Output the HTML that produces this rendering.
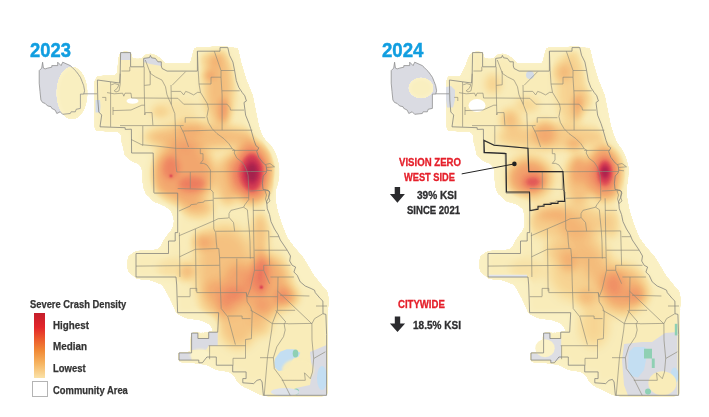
<!DOCTYPE html>
<html><head><meta charset="utf-8"><style>
html,body{margin:0;padding:0;background:#fff;width:709px;height:417px;overflow:hidden}
svg{position:absolute;left:0;top:0}
.t{position:absolute;font-family:"Liberation Sans",sans-serif;font-weight:bold;white-space:nowrap;line-height:1;transform-origin:0 0}
.yr{color:#119ee0;-webkit-text-stroke:0.45px #119ee0}
.lg{color:#343434;-webkit-text-stroke:0.25px #343434}
.red{color:#e5202b;-webkit-text-stroke:0.3px #e5202b}
.dk{color:#2e2e30;-webkit-text-stroke:0.3px #2e2e30}
</style></head><body>
<svg width="709" height="417" viewBox="0 0 709 417"><defs><filter id="g0_6" x="-100%" y="-100%" width="300%" height="300%"><feGaussianBlur stdDeviation="0.6"/></filter><filter id="g1" x="-100%" y="-100%" width="300%" height="300%"><feGaussianBlur stdDeviation="1"/></filter><filter id="g2" x="-100%" y="-100%" width="300%" height="300%"><feGaussianBlur stdDeviation="2"/></filter><filter id="g3" x="-100%" y="-100%" width="300%" height="300%"><feGaussianBlur stdDeviation="3"/></filter><filter id="g4" x="-100%" y="-100%" width="300%" height="300%"><feGaussianBlur stdDeviation="4"/></filter><filter id="g5" x="-100%" y="-100%" width="300%" height="300%"><feGaussianBlur stdDeviation="5"/></filter><filter id="g6" x="-100%" y="-100%" width="300%" height="300%"><feGaussianBlur stdDeviation="6"/></filter><filter id="g7" x="-100%" y="-100%" width="300%" height="300%"><feGaussianBlur stdDeviation="7"/></filter><filter id="g8" x="-100%" y="-100%" width="300%" height="300%"><feGaussianBlur stdDeviation="8"/></filter><filter id="g10" x="-100%" y="-100%" width="300%" height="300%"><feGaussianBlur stdDeviation="10"/></filter><filter id="g12" x="-100%" y="-100%" width="300%" height="300%"><feGaussianBlur stdDeviation="12"/></filter><filter id="cmap" filterUnits="userSpaceOnUse" x="-20" y="0" width="400" height="417" color-interpolation-filters="sRGB"><feColorMatrix in="SourceAlpha" type="matrix" values="0 0 0 1 0  0 0 0 1 0  0 0 0 1 0  0 0 0 1 0"/><feComponentTransfer><feFuncR type="table" tableValues="1.000 1.000 1.000 1.000 1.000 1.000 1.000 1.000 0.984 0.984 0.984 0.983 0.983 0.982 0.982 0.982 0.981 0.981 0.980 0.980 0.980 0.979 0.979 0.978 0.978 0.978 0.977 0.977 0.976 0.976 0.976 0.975 0.975 0.975 0.974 0.974 0.973 0.973 0.973 0.972 0.971 0.970 0.969 0.969 0.968 0.967 0.966 0.965 0.965 0.964 0.963 0.962 0.962 0.961 0.960 0.959 0.958 0.958 0.957 0.956 0.955 0.955 0.954 0.953 0.952 0.951 0.951 0.950 0.949 0.947 0.946 0.944 0.942 0.940 0.939 0.937 0.935 0.933 0.925 0.918 0.910 0.902 0.894 0.886 0.878 0.871 0.863 0.847 0.831 0.816 0.800 0.784 0.769 0.753 0.732 0.710 0.689 0.668 0.646 0.625 0.604"/><feFuncG type="table" tableValues="1.000 1.000 1.000 1.000 1.000 1.000 1.000 1.000 0.949 0.948 0.947 0.947 0.946 0.945 0.944 0.944 0.943 0.942 0.941 0.940 0.938 0.936 0.935 0.933 0.932 0.930 0.929 0.927 0.925 0.919 0.913 0.907 0.900 0.894 0.888 0.882 0.875 0.869 0.863 0.856 0.849 0.842 0.835 0.827 0.820 0.813 0.806 0.799 0.792 0.784 0.776 0.767 0.759 0.751 0.743 0.735 0.726 0.718 0.710 0.700 0.690 0.680 0.671 0.661 0.651 0.641 0.631 0.622 0.612 0.600 0.587 0.575 0.563 0.551 0.539 0.526 0.514 0.502 0.477 0.451 0.426 0.401 0.376 0.350 0.325 0.300 0.275 0.259 0.243 0.227 0.212 0.196 0.180 0.165 0.159 0.152 0.146 0.140 0.134 0.128 0.122"/><feFuncB type="table" tableValues="1.000 1.000 1.000 1.000 1.000 1.000 1.000 1.000 0.784 0.782 0.780 0.777 0.775 0.773 0.770 0.768 0.765 0.763 0.761 0.757 0.754 0.750 0.747 0.743 0.740 0.736 0.733 0.729 0.725 0.714 0.703 0.691 0.680 0.669 0.657 0.646 0.635 0.623 0.612 0.604 0.596 0.588 0.580 0.573 0.565 0.557 0.549 0.541 0.533 0.526 0.518 0.511 0.504 0.496 0.489 0.481 0.474 0.466 0.459 0.455 0.450 0.446 0.442 0.437 0.433 0.429 0.424 0.420 0.416 0.411 0.407 0.403 0.398 0.394 0.390 0.385 0.381 0.376 0.371 0.366 0.361 0.356 0.350 0.345 0.340 0.335 0.329 0.327 0.325 0.323 0.320 0.318 0.316 0.314 0.311 0.309 0.307 0.305 0.303 0.300 0.298"/><feFuncA type="table" tableValues="0.000 0.000 0.000 0.000 0.000 0.000 0.000 0.000 1.000 1.000 1.000 1.000 1.000 1.000 1.000 1.000 1.000 1.000 1.000 1.000 1.000 1.000 1.000 1.000 1.000 1.000 1.000 1.000 1.000 1.000 1.000 1.000 1.000 1.000 1.000 1.000 1.000 1.000 1.000 1.000 1.000 1.000 1.000 1.000 1.000 1.000 1.000 1.000 1.000 1.000 1.000 1.000 1.000 1.000 1.000 1.000 1.000 1.000 1.000 1.000 1.000 1.000 1.000 1.000 1.000 1.000 1.000 1.000 1.000 1.000 1.000 1.000 1.000 1.000 1.000 1.000 1.000 1.000 1.000 1.000 1.000 1.000 1.000 1.000 1.000 1.000 1.000 1.000 1.000 1.000 1.000 1.000 1.000 1.000 1.000 1.000 1.000 1.000 1.000 1.000 1.000"/></feComponentTransfer></filter></defs><g transform="translate(0,0)"><polygon points="39.2,70.6 41.7,68.1 42.6,62.2 43.4,68.1 45.1,68.9 47.6,68.1 51.8,67.2 51.8,65.6 57.7,65.6 57.7,62.2 61.1,65.6 62.7,62.2 70.3,65.6 72.0,67.2 74.5,69.8 76.2,71.4 78.7,74.8 80.4,77.3 82.1,81.5 83.7,85.7 84.6,90.8 83.7,94.1 80.4,94.1 80.4,108.4 76.2,109.3 75.3,111.8 71.1,111.8 70.3,113.5 62.7,114.3 60.2,111.8 56.8,113.5 55.2,110.1 51.8,108.4 51.0,106.7 47.6,105.9 45.1,103.4 42.6,102.5 40.9,100.0 40.0,91.6 39.2,83.2" fill="#dadbe2"/></g><g transform="translate(352,0)"><polygon points="39.2,70.6 41.7,68.1 42.6,62.2 43.4,68.1 45.1,68.9 47.6,68.1 51.8,67.2 51.8,65.6 57.7,65.6 57.7,62.2 61.1,65.6 62.7,62.2 70.3,65.6 72.0,67.2 74.5,69.8 76.2,71.4 78.7,74.8 80.4,77.3 82.1,81.5 83.7,85.7 84.6,90.8 83.7,94.1 80.4,94.1 80.4,108.4 76.2,109.3 75.3,111.8 71.1,111.8 70.3,113.5 62.7,114.3 60.2,111.8 56.8,113.5 55.2,110.1 51.8,108.4 51.0,106.7 47.6,105.9 45.1,103.4 42.6,102.5 40.9,100.0 40.0,91.6 39.2,83.2" fill="#dadbe2"/></g><g transform="translate(0,0)" filter="url(#cmap)"><polygon points="94.0,82.0 97.0,76.0 117.0,74.5 118.5,60.0 120.6,52.6 130.6,52.6 131.0,58.5 143.0,58.5 144.0,55.0 151.0,53.5 157.0,55.5 162.0,60.0 165.0,63.0 190.0,63.0 193.0,52.0 194.0,47.5 238.0,47.5 241.4,62.0 246.4,79.0 253.0,95.0 256.0,110.0 259.0,125.0 262.0,135.0 266.0,145.0 271.0,153.0 275.0,167.0 273.5,180.0 275.0,195.0 277.5,209.0 281.7,223.0 287.5,237.6 293.0,245.0 304.0,258.0 314.0,275.0 322.0,285.0 328.0,292.0 329.0,300.0 328.0,314.0 326.6,320.0 326.6,395.4 263.4,395.4 257.0,393.7 250.3,390.3 243.6,387.0 236.9,382.0 233.6,375.2 228.5,371.9 216.8,370.2 206.7,365.2 200.0,363.5 180.4,362.0 178.5,360.0 178.5,352.9 191.6,352.9 191.6,333.1 197.9,333.1 208.7,332.2 215.6,332.1 208.9,323.7 200.5,320.4 187.0,318.7 177.0,313.6 172.0,303.6 166.9,293.5 161.9,285.1 150.0,280.0 136.7,278.4 128.0,272.0 126.5,265.0 128.0,256.0 136.0,251.0 148.0,250.5 156.9,249.6 160.0,246.8 162.6,241.8 166.0,236.0 170.1,231.7 173.0,226.7 174.0,220.9 171.3,210.1 165.9,204.7 153.3,201.2 148.0,195.5 146.0,194.7 143.1,187.5 142.4,180.3 141.7,168.8 138.8,164.5 131.6,161.6 124.4,155.8 123.0,148.6 120.8,140.0 121.0,135.0 118.0,132.0 96.0,131.0 94.0,127.0" fill-opacity="0.15" filter="url(#g1)"/><polygon points="97.4,80.0 110.6,81.8 119.6,83.0 120.2,73.5 120.6,52.6 130.6,52.6 130.6,66.8 143.7,66.8 143.7,58.4 149.5,57.6 150.4,55.4 151.5,57.8 155.4,58.4 157.9,61.8 161.3,61.8 161.3,66.0 162.1,68.5 167.1,71.1 197.4,71.1 197.4,51.2 220.0,51.2 220.0,47.6 227.8,47.6 229.5,55.2 232.9,62.0 234.6,70.5 236.3,80.6 238.8,87.4 242.2,92.5 244.8,95.8 246.4,101.0 244.0,102.5 245.6,115.1 249.0,123.5 250.7,128.6 254.0,140.3 256.0,145.8 258.8,147.9 256.7,151.5 258.8,157.3 263.2,163.0 266.0,165.2 266.8,170.2 266.0,173.0 263.2,176.0 262.4,183.2 263.0,189.4 266.6,190.0 269.5,191.5 268.8,197.3 266.6,201.6 267.3,208.8 269.5,214.5 271.0,221.7 274.5,229.0 278.1,234.7 280.3,240.0 287.2,250.2 290.5,256.0 289.7,261.0 292.2,265.3 295.6,267.0 293.9,272.0 297.2,275.3 300.2,281.8 305.2,286.0 311.1,288.5 314.5,290.2 315.3,292.7 320.3,298.6 322.9,301.1 323.0,313.7 325.9,314.4 326.6,334.5 326.6,395.3 263.4,395.3 262.9,390.3 262.1,382.0 260.4,379.4 257.0,380.3 253.7,383.6 242.8,382.8 242.8,378.6 246.1,378.6 246.1,371.9 232.7,371.9 232.7,365.2 216.3,365.2 216.3,357.0 210.0,357.0 206.9,357.0 202.4,362.8 198.8,362.8 198.8,360.1 179.0,360.1 179.0,352.9 191.6,352.9 191.6,333.1 197.9,333.1 197.9,338.5 208.7,338.5 208.7,332.2 217.7,332.2 218.7,312.7 177.6,312.7 176.7,285.0 176.0,277.0 150.0,277.0 136.0,277.0 136.0,253.5 168.5,253.5 168.5,241.0 175.2,241.0 175.2,232.6 177.7,232.6 177.7,193.1 154.2,193.1 153.9,192.5 153.2,153.0 131.6,153.0 131.4,129.2 125.2,129.4 125.2,127.7 100.0,126.8 101.7,115.0 98.8,112.0 97.8,100.0 97.4,80.0" fill-opacity="0.15" filter="url(#g3)"/><ellipse cx="72" cy="93" rx="15" ry="26" fill-opacity="0.2" filter="url(#g2)"/><ellipse cx="219" cy="88" rx="14" ry="38" fill-opacity="0.36" filter="url(#g5)"/><ellipse cx="210" cy="60" rx="10" ry="8" fill-opacity="0.2" filter="url(#g4)"/><ellipse cx="208.7" cy="75.5" rx="6" ry="5" fill-opacity="0.3" filter="url(#g3)"/><ellipse cx="224" cy="111" rx="5" ry="13" fill-opacity="0.35" filter="url(#g3)"/><ellipse cx="175" cy="110" rx="25" ry="10" fill-opacity="0.1" filter="url(#g6)"/><ellipse cx="200" cy="137" rx="55" ry="12" fill-opacity="0.36" filter="url(#g5)"/><ellipse cx="183" cy="174" rx="32" ry="32" fill-opacity="0.5" filter="url(#g6)"/><ellipse cx="171" cy="168" rx="9" ry="12" fill-opacity="0.32" filter="url(#g3)"/><ellipse cx="192" cy="184" rx="14" ry="8" fill-opacity="0.38" filter="url(#g3)"/><ellipse cx="171" cy="176" rx="1.5" ry="1.5" fill-opacity="0.8" filter="url(#g1)"/><ellipse cx="228" cy="180" rx="12" ry="25" fill-opacity="0.35" filter="url(#g5)"/><ellipse cx="252.5" cy="172" rx="22" ry="32" fill-opacity="0.6" filter="url(#g5)"/><ellipse cx="252" cy="172.5" rx="12" ry="20" fill-opacity="0.65" filter="url(#g3)"/><ellipse cx="252" cy="172.5" rx="6" ry="10" fill-opacity="0.8" filter="url(#g2)"/><ellipse cx="160" cy="112" rx="8" ry="6" fill-opacity="0.15" filter="url(#g3)"/><ellipse cx="190" cy="127" rx="15" ry="9" fill-opacity="0.2" filter="url(#g4)"/><ellipse cx="225" cy="268" rx="30" ry="42" fill-opacity="0.34" filter="url(#g7)"/><ellipse cx="205" cy="240" rx="10" ry="10" fill-opacity="0.2" filter="url(#g4)"/><ellipse cx="215" cy="300" rx="15" ry="20" fill-opacity="0.22" filter="url(#g5)"/><ellipse cx="198" cy="210" rx="14" ry="8" fill-opacity="0.28" filter="url(#g4)"/><ellipse cx="200" cy="242" rx="8" ry="8" fill-opacity="0.2" filter="url(#g3)"/><ellipse cx="238" cy="282" rx="14" ry="18" fill-opacity="0.25" filter="url(#g5)"/><ellipse cx="260" cy="235" rx="8" ry="22" fill-opacity="0.32" filter="url(#g4)"/><ellipse cx="200" cy="205" rx="16" ry="6" fill-opacity="0.15" filter="url(#g4)"/><ellipse cx="175" cy="270" rx="18" ry="12" fill-opacity="0.12" filter="url(#g5)"/><ellipse cx="187" cy="272" rx="7" ry="8" fill-opacity="0.25" filter="url(#g3)"/><ellipse cx="268" cy="285" rx="22" ry="30" fill-opacity="0.45" filter="url(#g6)"/><ellipse cx="261" cy="274" rx="8" ry="22" fill-opacity="0.45" filter="url(#g4)"/><ellipse cx="287" cy="297" rx="11" ry="10" fill-opacity="0.42" filter="url(#g4)"/><ellipse cx="261.4" cy="287.2" rx="1.5" ry="1.5" fill-opacity="0.8" filter="url(#g1)"/><ellipse cx="238" cy="318" rx="20" ry="30" fill-opacity="0.32" filter="url(#g6)"/><ellipse cx="228" cy="300" rx="12" ry="15" fill-opacity="0.1" filter="url(#g5)"/><ellipse cx="262" cy="318" rx="10" ry="18" fill-opacity="0.25" filter="url(#g5)"/></g><g transform="translate(352,0)" filter="url(#cmap)"><polygon points="94.0,82.0 96.0,76.0 108.0,76.0 113.0,66.0 117.0,56.0 120.6,52.6 130.6,52.6 131.0,58.5 143.0,58.5 144.0,55.0 151.0,53.5 157.0,55.5 162.0,60.0 165.0,63.0 190.0,63.0 193.0,52.0 194.0,47.5 238.0,47.5 241.4,62.0 246.4,79.0 253.0,95.0 256.0,110.0 259.0,125.0 262.0,135.0 266.0,145.0 271.0,153.0 275.0,167.0 273.5,180.0 275.0,195.0 277.5,209.0 281.7,223.0 287.5,237.6 293.0,245.0 304.0,258.0 314.0,275.0 322.0,285.0 328.0,292.0 329.0,300.0 328.0,314.0 326.6,320.0 326.6,395.4 263.4,395.4 257.0,393.7 250.3,390.3 243.6,387.0 236.9,382.0 233.6,375.2 228.5,371.9 216.8,370.2 206.7,365.2 200.0,363.5 180.4,362.0 178.5,360.0 178.5,352.9 191.6,352.9 191.6,333.1 197.9,333.1 208.7,332.2 215.6,332.1 208.9,323.7 200.5,320.4 187.0,318.7 177.0,313.6 172.0,303.6 166.9,293.5 161.9,285.1 150.0,280.0 136.7,278.4 128.0,272.0 126.5,265.0 128.0,256.0 136.0,251.0 148.0,250.5 156.9,249.6 160.0,246.8 162.6,241.8 166.0,236.0 170.1,231.7 173.0,226.7 174.0,220.9 171.3,210.1 165.9,204.7 153.3,201.2 148.0,195.5 146.0,194.7 143.1,187.5 142.4,180.3 141.7,168.8 138.8,164.5 131.6,161.6 124.4,155.8 123.0,148.6 120.8,140.0 121.0,135.0 118.0,132.0 96.0,131.0 94.0,127.0" fill-opacity="0.15" filter="url(#g1)"/><polygon points="97.4,80.0 110.6,81.8 119.6,83.0 120.2,73.5 120.6,52.6 130.6,52.6 130.6,66.8 143.7,66.8 143.7,58.4 149.5,57.6 150.4,55.4 151.5,57.8 155.4,58.4 157.9,61.8 161.3,61.8 161.3,66.0 162.1,68.5 167.1,71.1 197.4,71.1 197.4,51.2 220.0,51.2 220.0,47.6 227.8,47.6 229.5,55.2 232.9,62.0 234.6,70.5 236.3,80.6 238.8,87.4 242.2,92.5 244.8,95.8 246.4,101.0 244.0,102.5 245.6,115.1 249.0,123.5 250.7,128.6 254.0,140.3 256.0,145.8 258.8,147.9 256.7,151.5 258.8,157.3 263.2,163.0 266.0,165.2 266.8,170.2 266.0,173.0 263.2,176.0 262.4,183.2 263.0,189.4 266.6,190.0 269.5,191.5 268.8,197.3 266.6,201.6 267.3,208.8 269.5,214.5 271.0,221.7 274.5,229.0 278.1,234.7 280.3,240.0 287.2,250.2 290.5,256.0 289.7,261.0 292.2,265.3 295.6,267.0 293.9,272.0 297.2,275.3 300.2,281.8 305.2,286.0 311.1,288.5 314.5,290.2 315.3,292.7 320.3,298.6 322.9,301.1 323.0,313.7 325.9,314.4 326.6,334.5 326.6,395.3 263.4,395.3 262.9,390.3 262.1,382.0 260.4,379.4 257.0,380.3 253.7,383.6 242.8,382.8 242.8,378.6 246.1,378.6 246.1,371.9 232.7,371.9 232.7,365.2 216.3,365.2 216.3,357.0 210.0,357.0 206.9,357.0 202.4,362.8 198.8,362.8 198.8,360.1 179.0,360.1 179.0,352.9 191.6,352.9 191.6,333.1 197.9,333.1 197.9,338.5 208.7,338.5 208.7,332.2 217.7,332.2 218.7,312.7 177.6,312.7 176.7,285.0 176.0,277.0 150.0,277.0 136.0,277.0 136.0,253.5 168.5,253.5 168.5,241.0 175.2,241.0 175.2,232.6 177.7,232.6 177.7,193.1 154.2,193.1 153.9,192.5 153.2,153.0 131.6,153.0 131.4,129.2 125.2,129.4 125.2,127.7 100.0,126.8 101.7,115.0 98.8,112.0 97.8,100.0 97.4,80.0" fill-opacity="0.15" filter="url(#g3)"/><ellipse cx="69" cy="88" rx="12" ry="10" fill-opacity="0.2" filter="url(#g2)"/><ellipse cx="219" cy="88" rx="14" ry="38" fill-opacity="0.22" filter="url(#g5)"/><ellipse cx="210" cy="72" rx="9" ry="9" fill-opacity="0.25" filter="url(#g4)"/><ellipse cx="225" cy="108" rx="5" ry="12" fill-opacity="0.28" filter="url(#g3)"/><ellipse cx="141" cy="84" rx="8" ry="10" fill-opacity="0.22" filter="url(#g4)"/><ellipse cx="157" cy="118" rx="8" ry="10" fill-opacity="0.22" filter="url(#g4)"/><ellipse cx="231" cy="100" rx="8" ry="10" fill-opacity="0.22" filter="url(#g4)"/><ellipse cx="222" cy="145" rx="8" ry="6" fill-opacity="0.25" filter="url(#g3)"/><ellipse cx="175" cy="105" rx="12" ry="8" fill-opacity="0.18" filter="url(#g4)"/><ellipse cx="200" cy="137" rx="55" ry="12" fill-opacity="0.27" filter="url(#g5)"/><ellipse cx="193" cy="133" rx="11" ry="13" fill-opacity="0.3" filter="url(#g4)"/><ellipse cx="177" cy="178" rx="22" ry="20" fill-opacity="0.55" filter="url(#g6)"/><ellipse cx="181" cy="182" rx="10" ry="7" fill-opacity="0.5" filter="url(#g3)"/><ellipse cx="160" cy="122" rx="10" ry="10" fill-opacity="0.2" filter="url(#g4)"/><ellipse cx="227" cy="180" rx="14" ry="25" fill-opacity="0.33" filter="url(#g5)"/><ellipse cx="226" cy="170" rx="8" ry="15" fill-opacity="0.25" filter="url(#g4)"/><ellipse cx="253" cy="173" rx="19" ry="28" fill-opacity="0.55" filter="url(#g5)"/><ellipse cx="253" cy="173" rx="9" ry="15" fill-opacity="0.62" filter="url(#g3)"/><ellipse cx="253" cy="172" rx="4" ry="6.5" fill-opacity="0.8" filter="url(#g2)"/><ellipse cx="215" cy="222" rx="40" ry="18" fill-opacity="0.27" filter="url(#g6)"/><ellipse cx="198" cy="214" rx="14" ry="6" fill-opacity="0.25" filter="url(#g4)"/><ellipse cx="259" cy="224" rx="8" ry="14" fill-opacity="0.22" filter="url(#g4)"/><ellipse cx="175" cy="270" rx="18" ry="12" fill-opacity="0.1" filter="url(#g5)"/><ellipse cx="225" cy="270" rx="28" ry="30" fill-opacity="0.22" filter="url(#g7)"/><ellipse cx="242" cy="258" rx="58" ry="15" fill-opacity="0.22" filter="url(#g6)" transform="rotate(55 242 258)"/><ellipse cx="217" cy="262" rx="9" ry="10" fill-opacity="0.28" filter="url(#g4)"/><ellipse cx="205" cy="250" rx="12" ry="10" fill-opacity="0.2" filter="url(#g5)"/><ellipse cx="235" cy="298" rx="10" ry="9" fill-opacity="0.3" filter="url(#g4)"/><ellipse cx="270" cy="290" rx="24" ry="24" fill-opacity="0.4" filter="url(#g6)"/><ellipse cx="262" cy="285" rx="8" ry="12" fill-opacity="0.18" filter="url(#g4)"/><ellipse cx="285" cy="295" rx="10" ry="9" fill-opacity="0.3" filter="url(#g4)"/><ellipse cx="242" cy="325" rx="14" ry="22" fill-opacity="0.2" filter="url(#g6)"/></g><g transform="translate(0,0)"><ellipse cx="132.5" cy="101" rx="6" ry="2.8" fill="#ffffff" fill-opacity="1" filter="url(#g0_6)"/><polygon points="310.0,352.0 326.6,345.0 326.6,395.4 296.0,395.4 296.0,388.0 310.0,385.0 312.0,372.0" fill="#dadbe2" fill-opacity="1"/><polygon points="275.1,358.5 280.1,351.8 286.8,349.3 293.6,349.3 300.3,352.7 298.6,356.8 293.6,358.5 291.0,362.7 289.4,367.8 285.2,370.3 278.5,371.1 275.1,367.8 274.3,362.7" fill="#c3def2" fill-opacity="1"/><ellipse cx="322" cy="378" rx="5" ry="12" fill="#c3def2" fill-opacity="1"/><ellipse cx="295.5" cy="353.5" rx="2.8" ry="4" fill="#8fd0b4" fill-opacity="1"/><ellipse cx="296" cy="391.5" rx="3" ry="3" fill="#8fd0b4" fill-opacity="1"/><ellipse cx="298" cy="370" rx="16" ry="11" fill="#f9ecb9" fill-opacity="0.95" filter="url(#g1)"/><ellipse cx="285" cy="392" rx="14" ry="4" fill="#dfe3ea" fill-opacity="1"/><polygon points="191.6,333.1 197.9,333.1 197.9,338.5 208.7,338.5 208.7,332.2 217.7,332.2 217.7,345.7 208.7,345.7 206.0,350.0 191.6,350.0" fill="#dadbe2" fill-opacity="1"/><polygon points="179.0,352.9 191.6,352.9 191.6,360.1 179.0,360.1" fill="#dadbe2" fill-opacity="1"/><ellipse cx="200" cy="355" rx="10" ry="6" fill="#fbf2c8" fill-opacity="1" filter="url(#g1)"/><polygon points="120.6,52.6 130.6,52.6 130.6,60.0 120.6,60.0" fill="#dadbe2" fill-opacity="1"/><polygon points="143.7,58.4 149.5,57.6 150.4,55.4 151.5,57.8 155.4,58.4 157.9,61.8 161.3,61.8 161.3,66.0 150.0,64.0 143.7,62.0" fill="#dadbe2" fill-opacity="1"/><polygon points="95.5,100.0 100.0,100.0 100.5,106.0 100.0,112.5 95.5,112.5" fill="#d3dbe6" fill-opacity="1"/></g><g transform="translate(352,0)"><ellipse cx="125" cy="105.5" rx="8.5" ry="6.5" fill="#ffffff" fill-opacity="1" filter="url(#g0_6)"/><polygon points="272.0,344.0 290.0,342.0 300.0,342.0 313.0,333.0 325.4,332.0 325.4,395.4 276.0,395.4 272.0,385.0 270.0,360.0" fill="#dadbe2" fill-opacity="1"/><polygon points="276.8,352.0 282.0,347.0 292.0,346.9 296.0,350.0 294.0,360.0 292.0,370.0 286.0,377.6 279.0,376.0 276.0,368.0" fill="#c3def2" fill-opacity="1"/><ellipse cx="322.5" cy="375.5" rx="4" ry="8" fill="#c3def2" fill-opacity="1"/><polygon points="292.0,348.8 300.0,348.8 300.0,358.4 302.7,358.4 302.7,368.0 299.8,368.0 299.8,358.4 292.0,358.4" fill="#8fd0b4" fill-opacity="1"/><polygon points="322.8,323.8 325.4,323.8 325.4,335.4 322.8,335.4" fill="#8fd0b4" fill-opacity="1"/><ellipse cx="296" cy="391.5" rx="3" ry="3" fill="#8fd0b4" fill-opacity="1"/><ellipse cx="310.4" cy="383.3" rx="14" ry="12" fill="#f9ecb9" fill-opacity="1" filter="url(#g0_6)"/><polygon points="191.4,333.1 198.4,333.1 198.9,339.0 205.4,339.0 205.9,338.5 209.2,338.5 209.2,357.4 205.4,360.6 202.2,361.2 198.9,362.8 198.4,360.1 179.5,360.1 178.9,353.6 192.4,353.6" fill="#dddee4" fill-opacity="1"/><ellipse cx="193" cy="348.2" rx="9.7" ry="9" fill="#fbf2c8" fill-opacity="1" filter="url(#g0_6)"/><polygon points="94.0,87.0 99.0,86.0 103.0,90.0 103.0,100.0 101.0,107.4 95.0,107.4 94.0,100.0" fill="#d9dce3" fill-opacity="1"/><ellipse cx="178" cy="75" rx="4" ry="4" fill="#d3dbe6" fill-opacity="1"/><polygon points="137.0,274.8 175.0,274.8 175.0,277.2 137.0,277.2" fill="#e2e5ec" fill-opacity="1"/></g><g transform="translate(0,0)" fill="none" stroke-linejoin="round"><polyline points="265.5,164.5 270.0,163.5 272.0,165.0 274.5,166.8 266.5,167.5" stroke="#8b8878" stroke-width="0.65"/><polyline points="266.5,170.2 272.0,170.8" stroke="#8b8878" stroke-width="0.65"/><polyline points="265.0,191.0 268.0,190.0 270.0,193.0 268.5,197.0 270.0,201.0 267.0,203.5 265.5,199.0 266.5,195.0 265.0,191.0" stroke="#8b8878" stroke-width="0.65"/><polyline points="120.2,73.5 120.2,84.2" stroke="#8b8878" stroke-width="0.65"/><polyline points="121.4,71.0 129.8,71.0 129.8,66.8" stroke="#8b8878" stroke-width="0.65"/><polyline points="110.6,81.8 110.6,126.8" stroke="#8b8878" stroke-width="0.65"/><polyline points="111.2,84.8 114.8,83.6 119.0,84.8 117.2,88.4 114.2,90.8 116.0,92.0 119.0,90.8 120.2,84.2" stroke="#8b8878" stroke-width="0.65"/><polyline points="107.0,92.6 110.6,93.2 114.2,93.8 122.6,93.2 123.8,96.2 125.0,93.2 131.0,93.2 131.6,98.0 144.2,98.0 177.8,98.3 183.7,104.2 227.1,104.2 230.0,107.7 230.5,110.1 244.0,110.1" stroke="#8b8878" stroke-width="0.65"/><polyline points="144.2,66.8 144.2,85.4 144.8,115.0 145.3,112.6 152.0,112.6 152.9,125.2" stroke="#8b8878" stroke-width="0.65"/><polyline points="144.2,85.4 150.2,84.8 150.2,71.0" stroke="#8b8878" stroke-width="0.65"/><polyline points="113.0,107.0 113.0,115.0" stroke="#8b8878" stroke-width="0.65"/><polyline points="113.0,110.6 131.0,110.0 141.8,105.2 144.8,105.2" stroke="#8b8878" stroke-width="0.65"/><polyline points="102.2,97.4 105.8,97.4 105.8,101.0" stroke="#8b8878" stroke-width="0.65"/><polyline points="278.0,277.0 277.4,310.2 272.3,323.6 271.7,330.0 267.5,356.8 264.2,395.4" stroke="#8b8878" stroke-width="0.65"/><polyline points="275.7,310.2 285.8,322.0 284.1,323.6 285.2,330.0 283.5,336.7 276.8,346.8 273.4,357.7 274.3,368.6 281.8,378.7 290.2,395.4" stroke="#8b8878" stroke-width="0.65"/><polyline points="281.8,380.3 305.3,380.3 304.5,372.8 310.3,378.7" stroke="#8b8878" stroke-width="0.65"/><polyline points="311.9,323.8 312.0,340.0 313.7,358.5 312.5,372.0 310.3,378.7" stroke="#8b8878" stroke-width="0.65"/><polyline points="313.7,358.5 325.4,351.8" stroke="#8b8878" stroke-width="0.65"/><polyline points="260.0,357.7 273.4,357.7" stroke="#8b8878" stroke-width="0.65"/><polyline points="280.0,295.2 309.4,296.0" stroke="#8b8878" stroke-width="0.65"/><polyline points="277.4,291.0 311.9,323.8" stroke="#8b8878" stroke-width="0.65"/><polyline points="277.4,310.3 295.1,310.3" stroke="#8b8878" stroke-width="0.65"/><polyline points="288.0,323.8 311.9,323.4" stroke="#8b8878" stroke-width="0.65"/><polyline points="311.9,323.8 314.5,318.7 322.9,313.7" stroke="#8b8878" stroke-width="0.65"/><polyline points="316.0,306.0 327.0,306.0" stroke="#8b8878" stroke-width="0.65"/><polyline points="178.9,211.0 190.3,206.0 190.9,204.7 196.6,204.0 197.9,202.8 203.6,202.2 204.3,200.9 213.1,200.2" stroke="#8b8878" stroke-width="0.65"/><polyline points="210.4,170.0 210.4,189.4 213.1,192.0 213.8,228.8 215.7,232.6 216.3,242.0 217.0,248.5" stroke="#8b8878" stroke-width="0.65"/><polyline points="213.8,198.3 248.7,197.7" stroke="#8b8878" stroke-width="0.65"/><polyline points="246.8,170.7 248.1,175.3 248.7,188.5 248.7,199.6 244.9,204.7 243.6,207.2 230.9,210.4 229.0,213.6 229.0,217.4 233.5,222.5 234.7,231.3" stroke="#8b8878" stroke-width="0.65"/><polyline points="243.6,207.2 247.4,209.8 248.0,217.4 249.3,230.1 250.0,242.0 250.3,258.6" stroke="#8b8878" stroke-width="0.65"/><polyline points="253.1,198.3 253.8,242.0 254.5,270.3" stroke="#8b8878" stroke-width="0.65"/><polyline points="253.1,210.4 265.0,210.4" stroke="#8b8878" stroke-width="0.65"/><polyline points="178.9,235.8 195.4,228.8 214.4,220.6 218.2,218.7 228.4,218.0 229.0,217.4" stroke="#8b8878" stroke-width="0.65"/><polyline points="195.4,228.8 196.1,291.3" stroke="#8b8878" stroke-width="0.65"/><polyline points="215.7,231.3 268.7,230.9" stroke="#8b8878" stroke-width="0.65"/><polyline points="145.3,60.0 150.4,73.4 155.4,76.8 162.0,80.1 165.5,86.8 166.9,94.4 168.4,98.3 171.4,104.7 174.8,113.6 175.3,125.0 176.0,165.0 176.8,172.0" stroke="#8b8878" stroke-width="0.65"/><polyline points="172.2,85.2 185.6,71.7" stroke="#8b8878" stroke-width="0.65"/><polyline points="171.0,85.0 171.4,104.7" stroke="#8b8878" stroke-width="0.65"/><polyline points="171.4,91.4 180.7,91.4 183.7,94.9 185.7,91.4 188.6,92.4 193.6,94.9 197.5,92.4 200.5,92.4" stroke="#8b8878" stroke-width="0.65"/><polyline points="185.2,117.7 205.4,117.7" stroke="#8b8878" stroke-width="0.65"/><polyline points="185.2,117.7 185.2,122.7" stroke="#8b8878" stroke-width="0.65"/><polyline points="120.0,125.6 183.6,125.6" stroke="#8b8878" stroke-width="0.65"/><polyline points="142.8,126.0 142.8,145.3" stroke="#8b8878" stroke-width="0.65"/><polyline points="131.0,139.4 142.8,145.3" stroke="#8b8878" stroke-width="0.65"/><polyline points="142.2,144.8 156.0,146.0 176.4,148.4 232.2,148.7" stroke="#8b8878" stroke-width="0.65"/><polyline points="180.2,126.0 184.0,133.6 188.6,147.0" stroke="#8b8878" stroke-width="0.65"/><polyline points="182.7,131.0 213.8,130.2 252.3,130.2" stroke="#8b8878" stroke-width="0.65"/><polyline points="208.4,122.5 212.0,128.6 217.0,133.6 223.8,138.6 228.9,143.7 232.2,148.7 234.9,150.3 234.2,153.0 236.9,158.2 242.2,162.2 244.8,166.1 246.8,170.7" stroke="#8b8878" stroke-width="0.65"/><polyline points="222.1,95.0 222.1,130.2" stroke="#8b8878" stroke-width="0.65"/><polyline points="197.4,51.2 198.2,70.5 199.0,84.0 200.5,92.4 204.4,98.8 207.4,103.8 208.4,108.7 206.9,116.6 208.4,122.5" stroke="#8b8878" stroke-width="0.65"/><polyline points="199.0,84.0 211.0,84.0 211.0,77.2 221.0,77.2" stroke="#8b8878" stroke-width="0.65"/><polyline points="214.3,51.2 221.0,70.5 221.0,77.2 222.1,95.0" stroke="#8b8878" stroke-width="0.65"/><polyline points="221.0,70.5 234.6,70.5" stroke="#8b8878" stroke-width="0.65"/><polyline points="222.0,90.8 239.7,90.8" stroke="#8b8878" stroke-width="0.65"/><polyline points="232.2,150.4 257.4,150.4" stroke="#8b8878" stroke-width="0.65"/><polyline points="200.3,148.7 200.3,153.7 203.0,153.7 203.0,160.0 200.3,163.4 203.7,163.4 207.0,165.0 210.4,170.0" stroke="#8b8878" stroke-width="0.65"/><polyline points="176.8,172.0 250.7,171.5 266.0,171.5" stroke="#8b8878" stroke-width="0.65"/><polyline points="190.3,172.0 190.3,188.5" stroke="#8b8878" stroke-width="0.65"/><polyline points="177.7,188.5 210.4,189.4" stroke="#8b8878" stroke-width="0.65"/><polyline points="249.8,191.0 265.8,190.2" stroke="#8b8878" stroke-width="0.65"/><polyline points="179.4,232.6 179.9,277.0" stroke="#8b8878" stroke-width="0.65"/><polyline points="179.4,256.9 195.3,249.3 218.8,248.5 219.6,257.7 254.0,257.7" stroke="#8b8878" stroke-width="0.65"/><polyline points="136.0,266.1 219.6,265.3" stroke="#8b8878" stroke-width="0.65"/><polyline points="219.6,257.7 220.3,285.0 221.2,308.5 227.9,316.9 235.4,344.6" stroke="#8b8878" stroke-width="0.65"/><polyline points="236.8,258.6 236.8,291.3" stroke="#8b8878" stroke-width="0.65"/><polyline points="268.7,230.9 269.6,265.3" stroke="#8b8878" stroke-width="0.65"/><polyline points="269.6,236.7 278.8,236.7" stroke="#8b8878" stroke-width="0.65"/><polyline points="254.5,250.2 287.2,250.2" stroke="#8b8878" stroke-width="0.65"/><polyline points="263.7,265.3 290.5,265.3" stroke="#8b8878" stroke-width="0.65"/><polyline points="254.5,270.3 263.7,270.3 263.7,265.3" stroke="#8b8878" stroke-width="0.65"/><polyline points="263.7,270.3 269.6,283.7" stroke="#8b8878" stroke-width="0.65"/><polyline points="270.4,277.0 293.9,277.0" stroke="#8b8878" stroke-width="0.65"/><polyline points="254.5,270.3 250.3,288.8 247.2,296.7 246.3,292.6" stroke="#8b8878" stroke-width="0.65"/><polyline points="190.1,296.4 190.1,288.4 196.8,288.4 196.8,292.6 246.3,292.6" stroke="#8b8878" stroke-width="0.65"/><polyline points="177.6,296.7 190.1,296.7" stroke="#8b8878" stroke-width="0.65"/><polyline points="247.2,296.7 277.4,296.7" stroke="#8b8878" stroke-width="0.65"/><polyline points="246.3,292.6 247.2,301.8 250.5,306.8 252.2,311.8 251.4,338.7 245.5,339.5 245.5,358.3" stroke="#8b8878" stroke-width="0.65"/><polyline points="227.9,316.0 242.1,316.0 242.1,318.6 250.5,318.6" stroke="#8b8878" stroke-width="0.65"/><polyline points="250.5,310.2 262.3,316.9 272.3,323.6 288.0,323.6" stroke="#8b8878" stroke-width="0.65"/><polyline points="208.7,345.7 245.6,345.7" stroke="#8b8878" stroke-width="0.65"/><polyline points="209.6,345.7 209.6,359.2" stroke="#8b8878" stroke-width="0.65"/><polyline points="233.0,358.3 245.6,358.3" stroke="#8b8878" stroke-width="0.65"/><polyline points="233.0,358.3 233.0,365.5" stroke="#8b8878" stroke-width="0.65"/><polygon points="97.4,80.0 110.6,81.8 119.6,83.0 120.2,73.5 120.6,52.6 130.6,52.6 130.6,66.8 143.7,66.8 143.7,58.4 149.5,57.6 150.4,55.4 151.5,57.8 155.4,58.4 157.9,61.8 161.3,61.8 161.3,66.0 162.1,68.5 167.1,71.1 197.4,71.1 197.4,51.2 220.0,51.2 220.0,47.6 227.8,47.6 229.5,55.2 232.9,62.0 234.6,70.5 236.3,80.6 238.8,87.4 242.2,92.5 244.8,95.8 246.4,101.0 244.0,102.5 245.6,115.1 249.0,123.5 250.7,128.6 254.0,140.3 256.0,145.8 258.8,147.9 256.7,151.5 258.8,157.3 263.2,163.0 266.0,165.2 266.8,170.2 266.0,173.0 263.2,176.0 262.4,183.2 263.0,189.4 266.6,190.0 269.5,191.5 268.8,197.3 266.6,201.6 267.3,208.8 269.5,214.5 271.0,221.7 274.5,229.0 278.1,234.7 280.3,240.0 287.2,250.2 290.5,256.0 289.7,261.0 292.2,265.3 295.6,267.0 293.9,272.0 297.2,275.3 300.2,281.8 305.2,286.0 311.1,288.5 314.5,290.2 315.3,292.7 320.3,298.6 322.9,301.1 323.0,313.7 325.9,314.4 326.6,334.5 326.6,395.3 263.4,395.3 262.9,390.3 262.1,382.0 260.4,379.4 257.0,380.3 253.7,383.6 242.8,382.8 242.8,378.6 246.1,378.6 246.1,371.9 232.7,371.9 232.7,365.2 216.3,365.2 216.3,357.0 210.0,357.0 206.9,357.0 202.4,362.8 198.8,362.8 198.8,360.1 179.0,360.1 179.0,352.9 191.6,352.9 191.6,333.1 197.9,333.1 197.9,338.5 208.7,338.5 208.7,332.2 217.7,332.2 218.7,312.7 177.6,312.7 176.7,285.0 176.0,277.0 150.0,277.0 136.0,277.0 136.0,253.5 168.5,253.5 168.5,241.0 175.2,241.0 175.2,232.6 177.7,232.6 177.7,193.1 154.2,193.1 153.9,192.5 153.2,153.0 131.6,153.0 131.4,129.2 125.2,129.4 125.2,127.7 100.0,126.8 101.7,115.0 98.8,112.0 97.8,100.0 97.4,80.0" stroke="#7e7e7a" stroke-width="0.75"/><polygon points="39.2,70.6 41.7,68.1 42.6,62.2 43.4,68.1 45.1,68.9 47.6,68.1 51.8,67.2 51.8,65.6 57.7,65.6 57.7,62.2 61.1,65.6 62.7,62.2 70.3,65.6 72.0,67.2 74.5,69.8 76.2,71.4 78.7,74.8 80.4,77.3 82.1,81.5 83.7,85.7 84.6,90.8 83.7,94.1 80.4,94.1 80.4,108.4 76.2,109.3 75.3,111.8 71.1,111.8 70.3,113.5 62.7,114.3 60.2,111.8 56.8,113.5 55.2,110.1 51.8,108.4 51.0,106.7 47.6,105.9 45.1,103.4 42.6,102.5 40.9,100.0 40.0,91.6 39.2,83.2" stroke="#8a8a8a" stroke-width="0.75"/><line x1="83.7" y1="93.8" x2="97" y2="93.8" stroke="#8a8a8a" stroke-width="0.75"/></g><g transform="translate(352,0)" fill="none" stroke-linejoin="round"><polyline points="265.5,164.5 270.0,163.5 272.0,165.0 274.5,166.8 266.5,167.5" stroke="#8b8878" stroke-width="0.65"/><polyline points="266.5,170.2 272.0,170.8" stroke="#8b8878" stroke-width="0.65"/><polyline points="265.0,191.0 268.0,190.0 270.0,193.0 268.5,197.0 270.0,201.0 267.0,203.5 265.5,199.0 266.5,195.0 265.0,191.0" stroke="#8b8878" stroke-width="0.65"/><polyline points="120.2,73.5 120.2,84.2" stroke="#8b8878" stroke-width="0.65"/><polyline points="121.4,71.0 129.8,71.0 129.8,66.8" stroke="#8b8878" stroke-width="0.65"/><polyline points="110.6,81.8 110.6,126.8" stroke="#8b8878" stroke-width="0.65"/><polyline points="111.2,84.8 114.8,83.6 119.0,84.8 117.2,88.4 114.2,90.8 116.0,92.0 119.0,90.8 120.2,84.2" stroke="#8b8878" stroke-width="0.65"/><polyline points="107.0,92.6 110.6,93.2 114.2,93.8 122.6,93.2 123.8,96.2 125.0,93.2 131.0,93.2 131.6,98.0 144.2,98.0 177.8,98.3 183.7,104.2 227.1,104.2 230.0,107.7 230.5,110.1 244.0,110.1" stroke="#8b8878" stroke-width="0.65"/><polyline points="144.2,66.8 144.2,85.4 144.8,115.0 145.3,112.6 152.0,112.6 152.9,125.2" stroke="#8b8878" stroke-width="0.65"/><polyline points="144.2,85.4 150.2,84.8 150.2,71.0" stroke="#8b8878" stroke-width="0.65"/><polyline points="113.0,107.0 113.0,115.0" stroke="#8b8878" stroke-width="0.65"/><polyline points="113.0,110.6 131.0,110.0 141.8,105.2 144.8,105.2" stroke="#8b8878" stroke-width="0.65"/><polyline points="102.2,97.4 105.8,97.4 105.8,101.0" stroke="#8b8878" stroke-width="0.65"/><polyline points="278.0,277.0 277.4,310.2 272.3,323.6 271.7,330.0 267.5,356.8 264.2,395.4" stroke="#8b8878" stroke-width="0.65"/><polyline points="275.7,310.2 285.8,322.0 284.1,323.6 285.2,330.0 283.5,336.7 276.8,346.8 273.4,357.7 274.3,368.6 281.8,378.7 290.2,395.4" stroke="#8b8878" stroke-width="0.65"/><polyline points="281.8,380.3 305.3,380.3 304.5,372.8 310.3,378.7" stroke="#8b8878" stroke-width="0.65"/><polyline points="311.9,323.8 312.0,340.0 313.7,358.5 312.5,372.0 310.3,378.7" stroke="#8b8878" stroke-width="0.65"/><polyline points="313.7,358.5 325.4,351.8" stroke="#8b8878" stroke-width="0.65"/><polyline points="260.0,357.7 273.4,357.7" stroke="#8b8878" stroke-width="0.65"/><polyline points="280.0,295.2 309.4,296.0" stroke="#8b8878" stroke-width="0.65"/><polyline points="277.4,291.0 311.9,323.8" stroke="#8b8878" stroke-width="0.65"/><polyline points="277.4,310.3 295.1,310.3" stroke="#8b8878" stroke-width="0.65"/><polyline points="288.0,323.8 311.9,323.4" stroke="#8b8878" stroke-width="0.65"/><polyline points="311.9,323.8 314.5,318.7 322.9,313.7" stroke="#8b8878" stroke-width="0.65"/><polyline points="316.0,306.0 327.0,306.0" stroke="#8b8878" stroke-width="0.65"/><polyline points="178.9,211.0 190.3,206.0 190.9,204.7 196.6,204.0 197.9,202.8 203.6,202.2 204.3,200.9 213.1,200.2" stroke="#8b8878" stroke-width="0.65"/><polyline points="210.4,170.0 210.4,189.4 213.1,192.0 213.8,228.8 215.7,232.6 216.3,242.0 217.0,248.5" stroke="#8b8878" stroke-width="0.65"/><polyline points="213.8,198.3 248.7,197.7" stroke="#8b8878" stroke-width="0.65"/><polyline points="246.8,170.7 248.1,175.3 248.7,188.5 248.7,199.6 244.9,204.7 243.6,207.2 230.9,210.4 229.0,213.6 229.0,217.4 233.5,222.5 234.7,231.3" stroke="#8b8878" stroke-width="0.65"/><polyline points="243.6,207.2 247.4,209.8 248.0,217.4 249.3,230.1 250.0,242.0 250.3,258.6" stroke="#8b8878" stroke-width="0.65"/><polyline points="253.1,198.3 253.8,242.0 254.5,270.3" stroke="#8b8878" stroke-width="0.65"/><polyline points="253.1,210.4 265.0,210.4" stroke="#8b8878" stroke-width="0.65"/><polyline points="178.9,235.8 195.4,228.8 214.4,220.6 218.2,218.7 228.4,218.0 229.0,217.4" stroke="#8b8878" stroke-width="0.65"/><polyline points="195.4,228.8 196.1,291.3" stroke="#8b8878" stroke-width="0.65"/><polyline points="215.7,231.3 268.7,230.9" stroke="#8b8878" stroke-width="0.65"/><polyline points="145.3,60.0 150.4,73.4 155.4,76.8 162.0,80.1 165.5,86.8 166.9,94.4 168.4,98.3 171.4,104.7 174.8,113.6 175.3,125.0 176.0,165.0 176.8,172.0" stroke="#8b8878" stroke-width="0.65"/><polyline points="172.2,85.2 185.6,71.7" stroke="#8b8878" stroke-width="0.65"/><polyline points="171.0,85.0 171.4,104.7" stroke="#8b8878" stroke-width="0.65"/><polyline points="171.4,91.4 180.7,91.4 183.7,94.9 185.7,91.4 188.6,92.4 193.6,94.9 197.5,92.4 200.5,92.4" stroke="#8b8878" stroke-width="0.65"/><polyline points="185.2,117.7 205.4,117.7" stroke="#8b8878" stroke-width="0.65"/><polyline points="185.2,117.7 185.2,122.7" stroke="#8b8878" stroke-width="0.65"/><polyline points="120.0,125.6 183.6,125.6" stroke="#8b8878" stroke-width="0.65"/><polyline points="142.8,126.0 142.8,145.3" stroke="#8b8878" stroke-width="0.65"/><polyline points="131.0,139.4 142.8,145.3" stroke="#8b8878" stroke-width="0.65"/><polyline points="142.2,144.8 156.0,146.0 176.4,148.4 232.2,148.7" stroke="#8b8878" stroke-width="0.65"/><polyline points="180.2,126.0 184.0,133.6 188.6,147.0" stroke="#8b8878" stroke-width="0.65"/><polyline points="182.7,131.0 213.8,130.2 252.3,130.2" stroke="#8b8878" stroke-width="0.65"/><polyline points="208.4,122.5 212.0,128.6 217.0,133.6 223.8,138.6 228.9,143.7 232.2,148.7 234.9,150.3 234.2,153.0 236.9,158.2 242.2,162.2 244.8,166.1 246.8,170.7" stroke="#8b8878" stroke-width="0.65"/><polyline points="222.1,95.0 222.1,130.2" stroke="#8b8878" stroke-width="0.65"/><polyline points="197.4,51.2 198.2,70.5 199.0,84.0 200.5,92.4 204.4,98.8 207.4,103.8 208.4,108.7 206.9,116.6 208.4,122.5" stroke="#8b8878" stroke-width="0.65"/><polyline points="199.0,84.0 211.0,84.0 211.0,77.2 221.0,77.2" stroke="#8b8878" stroke-width="0.65"/><polyline points="214.3,51.2 221.0,70.5 221.0,77.2 222.1,95.0" stroke="#8b8878" stroke-width="0.65"/><polyline points="221.0,70.5 234.6,70.5" stroke="#8b8878" stroke-width="0.65"/><polyline points="222.0,90.8 239.7,90.8" stroke="#8b8878" stroke-width="0.65"/><polyline points="232.2,150.4 257.4,150.4" stroke="#8b8878" stroke-width="0.65"/><polyline points="200.3,148.7 200.3,153.7 203.0,153.7 203.0,160.0 200.3,163.4 203.7,163.4 207.0,165.0 210.4,170.0" stroke="#8b8878" stroke-width="0.65"/><polyline points="176.8,172.0 250.7,171.5 266.0,171.5" stroke="#8b8878" stroke-width="0.65"/><polyline points="190.3,172.0 190.3,188.5" stroke="#8b8878" stroke-width="0.65"/><polyline points="177.7,188.5 210.4,189.4" stroke="#8b8878" stroke-width="0.65"/><polyline points="249.8,191.0 265.8,190.2" stroke="#8b8878" stroke-width="0.65"/><polyline points="179.4,232.6 179.9,277.0" stroke="#8b8878" stroke-width="0.65"/><polyline points="179.4,256.9 195.3,249.3 218.8,248.5 219.6,257.7 254.0,257.7" stroke="#8b8878" stroke-width="0.65"/><polyline points="136.0,266.1 219.6,265.3" stroke="#8b8878" stroke-width="0.65"/><polyline points="219.6,257.7 220.3,285.0 221.2,308.5 227.9,316.9 235.4,344.6" stroke="#8b8878" stroke-width="0.65"/><polyline points="236.8,258.6 236.8,291.3" stroke="#8b8878" stroke-width="0.65"/><polyline points="268.7,230.9 269.6,265.3" stroke="#8b8878" stroke-width="0.65"/><polyline points="269.6,236.7 278.8,236.7" stroke="#8b8878" stroke-width="0.65"/><polyline points="254.5,250.2 287.2,250.2" stroke="#8b8878" stroke-width="0.65"/><polyline points="263.7,265.3 290.5,265.3" stroke="#8b8878" stroke-width="0.65"/><polyline points="254.5,270.3 263.7,270.3 263.7,265.3" stroke="#8b8878" stroke-width="0.65"/><polyline points="263.7,270.3 269.6,283.7" stroke="#8b8878" stroke-width="0.65"/><polyline points="270.4,277.0 293.9,277.0" stroke="#8b8878" stroke-width="0.65"/><polyline points="254.5,270.3 250.3,288.8 247.2,296.7 246.3,292.6" stroke="#8b8878" stroke-width="0.65"/><polyline points="190.1,296.4 190.1,288.4 196.8,288.4 196.8,292.6 246.3,292.6" stroke="#8b8878" stroke-width="0.65"/><polyline points="177.6,296.7 190.1,296.7" stroke="#8b8878" stroke-width="0.65"/><polyline points="247.2,296.7 277.4,296.7" stroke="#8b8878" stroke-width="0.65"/><polyline points="246.3,292.6 247.2,301.8 250.5,306.8 252.2,311.8 251.4,338.7 245.5,339.5 245.5,358.3" stroke="#8b8878" stroke-width="0.65"/><polyline points="227.9,316.0 242.1,316.0 242.1,318.6 250.5,318.6" stroke="#8b8878" stroke-width="0.65"/><polyline points="250.5,310.2 262.3,316.9 272.3,323.6 288.0,323.6" stroke="#8b8878" stroke-width="0.65"/><polyline points="208.7,345.7 245.6,345.7" stroke="#8b8878" stroke-width="0.65"/><polyline points="209.6,345.7 209.6,359.2" stroke="#8b8878" stroke-width="0.65"/><polyline points="233.0,358.3 245.6,358.3" stroke="#8b8878" stroke-width="0.65"/><polyline points="233.0,358.3 233.0,365.5" stroke="#8b8878" stroke-width="0.65"/><polygon points="97.4,80.0 110.6,81.8 119.6,83.0 120.2,73.5 120.6,52.6 130.6,52.6 130.6,66.8 143.7,66.8 143.7,58.4 149.5,57.6 150.4,55.4 151.5,57.8 155.4,58.4 157.9,61.8 161.3,61.8 161.3,66.0 162.1,68.5 167.1,71.1 197.4,71.1 197.4,51.2 220.0,51.2 220.0,47.6 227.8,47.6 229.5,55.2 232.9,62.0 234.6,70.5 236.3,80.6 238.8,87.4 242.2,92.5 244.8,95.8 246.4,101.0 244.0,102.5 245.6,115.1 249.0,123.5 250.7,128.6 254.0,140.3 256.0,145.8 258.8,147.9 256.7,151.5 258.8,157.3 263.2,163.0 266.0,165.2 266.8,170.2 266.0,173.0 263.2,176.0 262.4,183.2 263.0,189.4 266.6,190.0 269.5,191.5 268.8,197.3 266.6,201.6 267.3,208.8 269.5,214.5 271.0,221.7 274.5,229.0 278.1,234.7 280.3,240.0 287.2,250.2 290.5,256.0 289.7,261.0 292.2,265.3 295.6,267.0 293.9,272.0 297.2,275.3 300.2,281.8 305.2,286.0 311.1,288.5 314.5,290.2 315.3,292.7 320.3,298.6 322.9,301.1 323.0,313.7 325.9,314.4 326.6,334.5 326.6,395.3 263.4,395.3 262.9,390.3 262.1,382.0 260.4,379.4 257.0,380.3 253.7,383.6 242.8,382.8 242.8,378.6 246.1,378.6 246.1,371.9 232.7,371.9 232.7,365.2 216.3,365.2 216.3,357.0 210.0,357.0 206.9,357.0 202.4,362.8 198.8,362.8 198.8,360.1 179.0,360.1 179.0,352.9 191.6,352.9 191.6,333.1 197.9,333.1 197.9,338.5 208.7,338.5 208.7,332.2 217.7,332.2 218.7,312.7 177.6,312.7 176.7,285.0 176.0,277.0 150.0,277.0 136.0,277.0 136.0,253.5 168.5,253.5 168.5,241.0 175.2,241.0 175.2,232.6 177.7,232.6 177.7,193.1 154.2,193.1 153.9,192.5 153.2,153.0 131.6,153.0 131.4,129.2 125.2,129.4 125.2,127.7 100.0,126.8 101.7,115.0 98.8,112.0 97.8,100.0 97.4,80.0" stroke="#7e7e7a" stroke-width="0.75"/><polygon points="39.2,70.6 41.7,68.1 42.6,62.2 43.4,68.1 45.1,68.9 47.6,68.1 51.8,67.2 51.8,65.6 57.7,65.6 57.7,62.2 61.1,65.6 62.7,62.2 70.3,65.6 72.0,67.2 74.5,69.8 76.2,71.4 78.7,74.8 80.4,77.3 82.1,81.5 83.7,85.7 84.6,90.8 83.7,94.1 80.4,94.1 80.4,108.4 76.2,109.3 75.3,111.8 71.1,111.8 70.3,113.5 62.7,114.3 60.2,111.8 56.8,113.5 55.2,110.1 51.8,108.4 51.0,106.7 47.6,105.9 45.1,103.4 42.6,102.5 40.9,100.0 40.0,91.6 39.2,83.2" stroke="#8a8a8a" stroke-width="0.75"/><line x1="83.7" y1="93.8" x2="97" y2="93.8" stroke="#8a8a8a" stroke-width="0.75"/></g><polygon points="484.0,140.4 494.0,145.2 528.0,148.3 528.8,171.6 563.0,171.6 564.7,201.5 558.0,201.5 558.0,203.4 551.0,203.4 551.0,204.4 544.0,204.4 544.0,206.3 538.0,206.3 538.0,209.2 530.0,210.6 529.5,192.0 506.5,192.0 506.0,153.6 484.4,152.4" fill="none" stroke="#2a2a2a" stroke-width="1.1" stroke-linejoin="miter"/><line x1="461.7" y1="173.9" x2="514.4" y2="163.9" stroke="#222" stroke-width="1"/><circle cx="514.4" cy="163.9" r="2.3" fill="#222"/><polygon points="394.7,187 400.1,187 400.1,194.1 404.9,194.1 397.4,202.8 389.9,194.1 394.7,194.1" fill="#2b2b2e"/><polygon points="394.8,316.5 400.2,316.5 400.2,323.5 405.1,323.5 397.5,332.0 389.9,323.5 394.8,323.5" fill="#2b2b2e"/></svg>
<div class="t yr" style="left:29.9px;top:40.54px;font-size:19.8px;transform:scaleX(0.928)">2023</div>
<div class="t yr" style="left:382.3px;top:40.54px;font-size:19.8px;transform:scaleX(0.942)">2024</div>
<div class="t lg" style="left:29.6px;top:298.73px;font-size:10.6px;transform:scaleX(0.884)">Severe Crash Density</div>
<div class="t lg" style="left:53.0px;top:320.03px;font-size:10.6px;transform:scaleX(0.924)">Highest</div>
<div class="t lg" style="left:53.0px;top:341.43px;font-size:10.6px;transform:scaleX(0.931)">Median</div>
<div class="t lg" style="left:53.0px;top:363.03px;font-size:10.6px;transform:scaleX(0.893)">Lowest</div>
<div class="t lg" style="left:53.0px;top:384.63px;font-size:10.6px;transform:scaleX(0.887)">Community Area</div>
<div class="t red" style="left:398.5px;top:158.0px;font-size:10.4px;transform:scaleX(0.926)">VISION ZERO</div>
<div class="t red" style="left:404.2px;top:173.4px;font-size:10.4px;transform:scaleX(0.892)">WEST SIDE</div>
<div class="t dk" style="left:416.8px;top:190.6px;font-size:10.4px;transform:scaleX(0.973)">39% KSI</div>
<div class="t dk" style="left:407.0px;top:205.6px;font-size:10.4px;transform:scaleX(0.918)">SINCE 2021</div>
<div class="t red" style="left:398.0px;top:299.97px;font-size:10.2px;transform:scaleX(0.94)">CITYWIDE</div>
<div class="t dk" style="left:413.1px;top:320.87px;font-size:10.2px;transform:scaleX(0.984)">18.5% KSI</div>
<div style="position:absolute;left:33.8px;top:313.4px;width:11.5px;height:64.2px;background:linear-gradient(#c41e2b,#e3262a 22%,#ec5a2c 40%,#f18a36 58%,#f6b562 78%,#fae2a8)"></div>
<div style="position:absolute;left:31.6px;top:381px;width:14px;height:13.5px;border:1px solid #b4b4b4;background:#fff"></div>

</body></html>
